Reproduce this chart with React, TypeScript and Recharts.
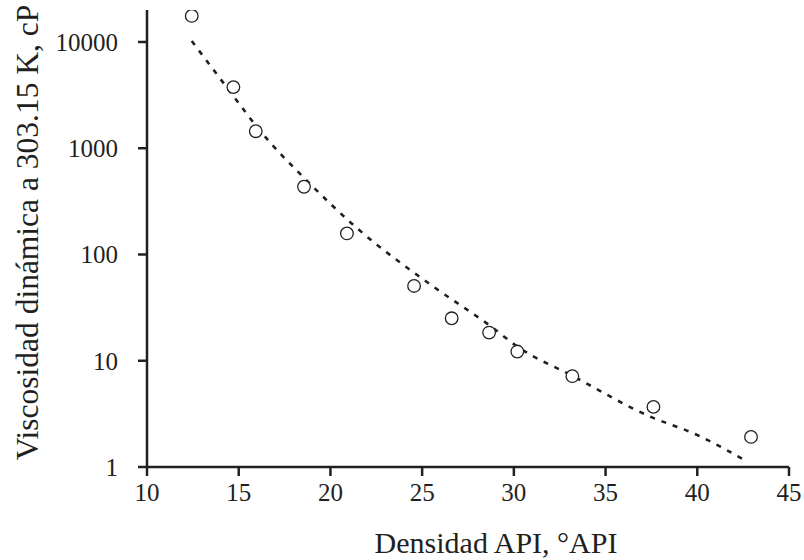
import React from 'react'
import { ComposedChart, Scatter, Line, XAxis, YAxis } from 'recharts'

// measured points (API gravity vs viscosity at 303.15 K)
const apiGravity = [12.44, 14.71, 15.93, 18.56, 20.9, 24.56, 26.61, 28.65, 30.19, 33.19, 37.61, 42.93]
const viscosity = [17600, 3760, 1446, 434, 158, 50.6, 25.1, 18.4, 12.2, 7.16, 3.68, 1.92]

// dashed trend line
const trendApi = [12.44, 14.71, 16.0, 18.9, 21.4, 25.6, 28.6, 30.3, 33.2, 37.3, 40.0, 42.7]
const trendVisc = [10200, 3100, 1580, 460, 180, 50, 22, 13.2, 7.2, 3.05, 2.0, 1.13]

const xTicks = [10, 15, 20, 25, 30, 35, 40, 45]
const yTicks = [1, 10, 100, 1000, 10000]

const points = apiGravity.map((x, i) => ({ x, y: viscosity[i] }))
const trend = trendApi.map((x, i) => ({ x, y: trendVisc[i] }))

const INK = '#231f20'
const FONT = '"Liberation Serif", "Times New Roman", serif'

const OpenCircle = (props: any) => {
  const { cx, cy } = props
  if (cx == null || cy == null) return null
  return <circle cx={cx} cy={cy} r={6.3} fill="#fff" stroke={INK} strokeWidth={1.3} />
}

const XTick = (props: any) => (
  <text x={props.x} y={props.y} dy="0.71em" textAnchor="middle" fontFamily={FONT} fontSize={25} fill={INK}>
    {props.payload.value}
  </text>
)

const YTick = (props: any) => (
  <text x={props.x} y={props.y} dy="0.355em" textAnchor="end" fontFamily={FONT} fontSize={25} fill={INK}>
    {props.payload.value}
  </text>
)

const XLabel = (props: any) => {
  const vb = props.viewBox || {}
  return (
    <text
      x={vb.x + vb.width / 2 + 28}
      y={553}
      textAnchor="middle"
      fontFamily={FONT}
      fontSize={30}
      fill={INK}
    >
      Densidad API, °API
    </text>
  )
}

const YLabel = (props: any) => {
  const vb = props.viewBox || {}
  const cx = vb.x + 27
  const cy = vb.y + vb.height / 2 - 6
  return (
    <text
      x={cx}
      y={cy}
      transform={`rotate(-90, ${cx}, ${cy})`}
      textAnchor="middle"
      dominantBaseline="central"
      fontFamily={FONT}
      fontSize={31.5}
      fill={INK}
    >
      Viscosidad dinámica a 303.15 K, cP
    </text>
  )
}

export default function App() {
  return (
    <div style={{ position: 'absolute', left: 0, top: 0, background: '#fff' }}>
      <ComposedChart width={804} height={560} margin={{ top: 10, right: 15, bottom: 0, left: 0 }}>
        <XAxis
          type="number"
          dataKey="x"
          domain={[10, 45]}
          ticks={xTicks}
          allowDataOverflow
          height={93}
          tickSize={9}
          tickMargin={7}
          tick={XTick}
          axisLine={{ stroke: INK, strokeWidth: 2.5 }}
          tickLine={{ stroke: INK, strokeWidth: 2.5 }}
          label={XLabel}
        />
        <YAxis
          type="number"
          dataKey="y"
          scale="log"
          domain={[1, 20000]}
          ticks={yTicks}
          allowDataOverflow
          width={147}
          tickSize={9}
          tickMargin={20}
          tick={YTick}
          axisLine={{ stroke: INK, strokeWidth: 2.5 }}
          tickLine={{ stroke: INK, strokeWidth: 2.5 }}
          label={YLabel}
        />
        <Line
          data={trend}
          dataKey="y"
          type="monotone"
          stroke={INK}
          strokeWidth={2.6}
          strokeDasharray="5 7"
          dot={false}
          activeDot={false}
          isAnimationActive={false}
        />
        <Scatter data={points} dataKey="y" shape={OpenCircle} isAnimationActive={false} />
      </ComposedChart>
    </div>
  )
}
